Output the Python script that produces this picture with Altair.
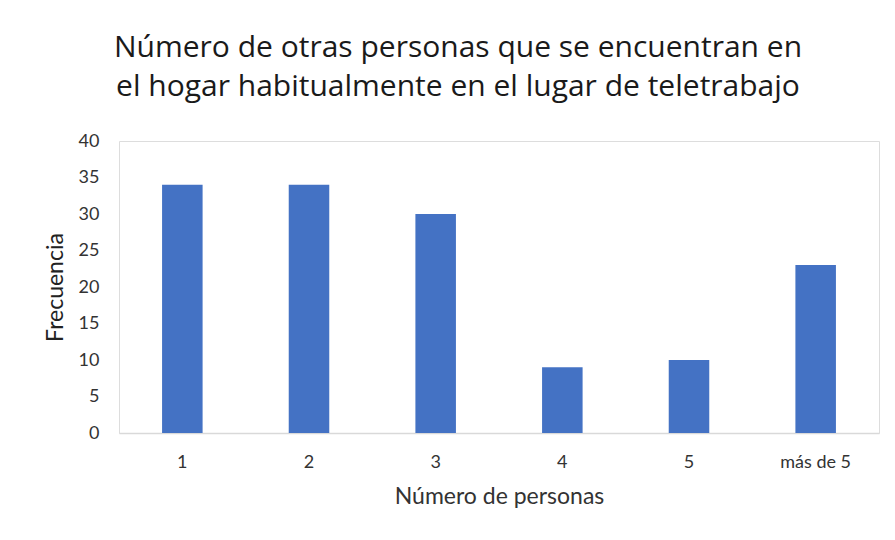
import altair as alt
import pandas as pd

categorias = ["1", "2", "3", "4", "5", "más de 5"]
frecuencias = [34, 34, 30, 9, 10, 23]
y_ticks = [0, 5, 10, 15, 20, 25, 30, 35, 40]

df = pd.DataFrame({"personas": categorias, "frecuencia": frecuencias})

FONT = "Lato"
TITLE_FONT = "Open Sans"

chart = (
    alt.Chart(df)
    .mark_bar(color="#4472C4")
    .encode(
        x=alt.X(
            "personas:N",
            sort=categorias,
            title="Número de personas",
            scale=alt.Scale(paddingInner=0.68, paddingOuter=0.34),
            axis=alt.Axis(
                labelAngle=0,
                ticks=False,
                labelPadding=20,
                labelFontSize=18,
                labelColor="#333333",
                labelFont=FONT,
                titleFont=FONT,
                titleFontSize=23,
                titleFontWeight="normal",
                titleColor="#333333",
                titlePadding=14,
                domainColor="#D9D9D9",
                domainWidth=1.5,
                grid=False,
            ),
        ),
        y=alt.Y(
            "frecuencia:Q",
            title="Frecuencia",
            scale=alt.Scale(domain=[0, 40], nice=False),
            axis=alt.Axis(
                values=y_ticks,
                ticks=False,
                domain=False,
                grid=False,
                labelPadding=20,
                labelFontSize=18,
                labelColor="#333333",
                labelFont=FONT,
                titleFont=FONT,
                titleFontSize=23,
                titleFontWeight="normal",
                titleColor="#222222",
                titlePadding=11,
            ),
        ),
    )
    .properties(
        width=760,
        height=292,
        autosize=alt.AutoSizeParams(type="none"),
        padding={"left": 111, "top": 133, "right": 8, "bottom": 99},
        title=alt.TitleParams(
            text=[
                "Número de otras personas que se encuentran en",
                "el hogar habitualmente en el lugar de teletrabajo",
            ],
            font=TITLE_FONT,
            fontSize=30,
            fontWeight="normal",
            color="#1a1a1a",
            anchor="middle",
            dx=-41,
            offset=30,
            lineHeight=39,
        ),
    )
    .configure_view(stroke="#4472C4", strokeWidth=1.5)
    .configure(background="white")
)

chart.save("out.html", embed_options={"renderer": "svg", "actions": False})
